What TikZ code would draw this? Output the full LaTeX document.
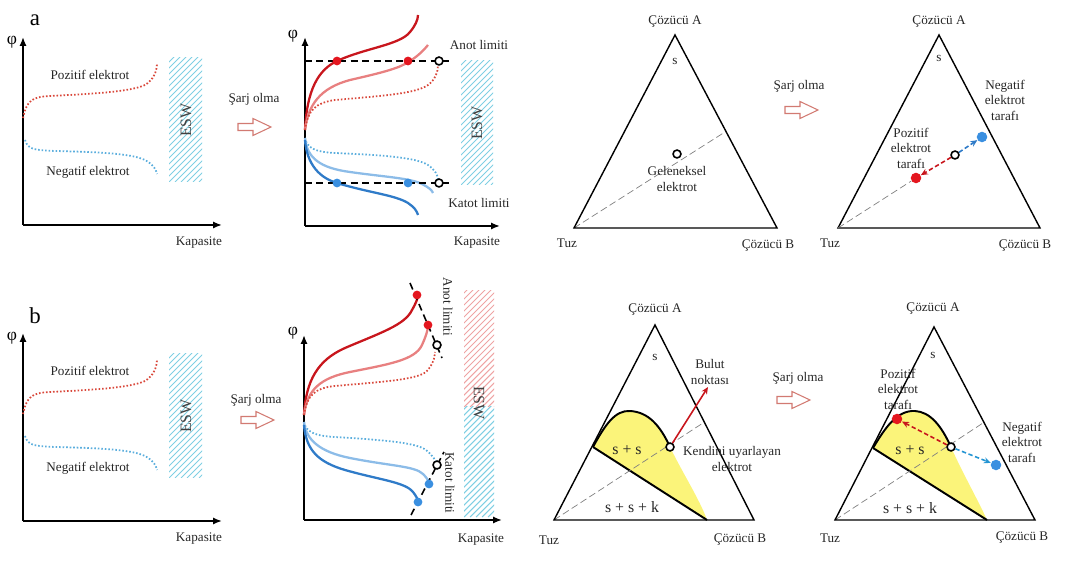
\documentclass[tikz,border=0pt]{standalone}
\usepackage{fontspec}
\setmainfont{Liberation Serif}
\usepackage{xcolor}
\usepackage{tikz}
\usetikzlibrary{positioning,arrows.meta}

\definecolor{potred}{HTML}{C8161D}
\definecolor{potredlt}{HTML}{E88080}
\definecolor{potreddot}{HTML}{D9473A}
\definecolor{potblue}{HTML}{2F7BC8}
\definecolor{potbluelt}{HTML}{8CBCE8}
\definecolor{potbluedot}{HTML}{5BAEDD}
\definecolor{eswblue}{HTML}{7FCFE3}
\definecolor{eswred}{HTML}{EFA3A3}
\definecolor{phaseyel}{HTML}{FBF47A}
\definecolor{sarjred}{HTML}{D27A72}
\definecolor{dotred}{HTML}{E4161F}
\definecolor{dotblue}{HTML}{3A8FE0}

% hatched ESW strip: x1, y1, x2, y2, colour
\newcommand{\eswhatch}[5]{%
  \begin{scope}
    \clip (#1,#2) rectangle (#3,#4);
    \foreach \k in {-240,-234,...,40}
      \draw[#5, line width=0.6pt] ({#1+\k},#4) -- ++(260,-260);
  \end{scope}}

% hollow "Sarj olma" arrow
\newcommand{\sarjarrow}[2]{%
  \draw[draw=sarjred, line width=0.6pt] (#1,#2) ++(0,-3.5) -- ++(15,0) -- ++(0,-5)
    -- ++(18,8.5) -- ++(-18,8.5) -- ++(0,-5) -- ++(-15,0) -- cycle;}

\begin{document}
\begin{tikzpicture}[x=0.02cm, y=-0.02cm,
      lbl/.style={
        font=\fontsize{7.5}{8.8}\selectfont,
        text=black!85,
        align=center,
        inner sep=0.5pt
      },
      panel/.style={font=\fontsize{13}{14}\selectfont, inner sep=0pt},
      phi/.style={font=\fontsize{10}{11}\selectfont, inner sep=0pt},
      esw/.style={font=\fontsize{9}{10}\selectfont, text=black!75, inner sep=0pt},
      axis/.style={line width=1.1pt, -{Latex[length=5pt,width=4pt]}},
      reddot/.style={potreddot, line width=1pt, dash pattern=on 0.9pt off 1.1pt},
      bluedot/.style={potbluedot, line width=1pt, dash pattern=on 0.9pt off 1.1pt},
      redfull/.style={potred, line width=1.3pt},
      redlight/.style={potredlt, line width=1.3pt},
      bluefull/.style={potblue, line width=1.3pt},
      bluelight/.style={potbluelt, line width=1.3pt},
      limit/.style={black, line width=0.9pt, dash pattern=on 4pt off 2.5pt},
      rdot/.style={circle, fill=dotred, inner sep=0pt, minimum size=5pt},
      bdot/.style={circle, fill=dotblue, inner sep=0pt, minimum size=5pt},
      odot/.style={circle, draw=black, fill=white, line width=0.9pt, inner sep=0pt, minimum size=4.5pt},
      tern/.style={black, line width=0.8pt},
      tie/.style={black, line width=1.1pt},
      guide/.style={gray, line width=0.4pt, dash pattern=on 4pt off 2pt},
      move/.style={line width=0.9pt, dash pattern=on 2.5pt off 1.5pt, -{Stealth[length=4pt,width=3.5pt]}}
      ]
        \useasboundingbox (0,0) rectangle (1068,580);

        % left panels, before charging
        \foreach \oy/\row in {0/a,296/b} {
          \begin{scope}[shift={(0,\oy)}]
            \node[panel] (lab\row) at (35,20) {\row};
            \coordinate (o\row) at (23,225);
            \coordinate (ytop\row) at (23,37);
            \coordinate (xend\row) at (222,225);
            \draw[axis] (o\row) -- (ytop\row);
            \draw[axis] (o\row) -- (xend\row);
            \node[phi] (phi\row) at (12,42) {φ};
            \node[lbl] (kap\row) at (199,243) {Kapasite};

            \draw[reddot] (23,118) .. controls (27,100) and (32,97) .. (50,96)
              .. controls (90,94) and (130,92) .. (145,85) .. controls (153,80) and (157,72) .. (157,63);
            \draw[bluedot] (25,140) .. controls (28,150) and (35,150) .. (55,151)
              .. controls (95,152) and (130,153) .. (145,160) .. controls (152,164) and (156,168) .. (157,174);
            \node[lbl] (poz\row) at (90,75) {Pozitif elektrot};
            \node[lbl] (neg\row) at (88,172) {Negatif elektrot};

            \eswhatch{169}{58}{202}{182}{eswblue}
            \node[esw, rotate=90] (esw\row) at (186,120) {ESW};
          \end{scope}
        }

        % charging arrows
        \node[lbl] (sarj1) at (254,99) {Şarj olma};
        \sarjarrow{238}{127}
        \node[lbl] (sarj2) at (256,400) {Şarj olma};
        \sarjarrow{241}{420}
        \node[lbl] (sarj3) at (799,86) {Şarj olma};
        \sarjarrow{785}{110}
        \node[lbl] (sarj4) at (798,378) {Şarj olma};
        \sarjarrow{777}{400}

        % a: after charging
        \coordinate (o2) at (305,226);
        \coordinate (y2top) at (305,37);
        \coordinate (x2end) at (500,226);
        \draw[axis] (o2) -- (y2top);
        \draw[axis] (o2) -- (x2end);
        \node[phi] (phi2) at (293,36) {φ};
        \node[lbl] (kap2) at (477,243) {Kapasite};

        \draw[redfull] (305,130) .. controls (307,90) and (318,70) .. (337,61)
          .. controls (365,48) and (400,45) .. (410,32) .. controls (415,26) and (418,20) .. (418,15);
        \draw[redlight] (305,130) .. controls (308,105) and (320,88) .. (350,80)
          .. controls (385,72) and (400,68) .. (410,61) .. controls (418,56) and (424,50) .. (428,45);
        \draw[reddot] (305,130) .. controls (308,110) and (315,103) .. (335,100)
          .. controls (380,96) and (415,94) .. (428,85) .. controls (435,80) and (438,72) .. (438,65);
        \draw[bluedot] (305,138) .. controls (307,148) and (315,152) .. (335,153)
          .. controls (380,155) and (415,157) .. (428,165) .. controls (435,170) and (438,175) .. (438,180);
        \draw[bluelight] (305,138) .. controls (307,158) and (320,168) .. (350,172)
          .. controls (385,177) and (410,178) .. (422,184) .. controls (428,187) and (432,190) .. (433,193);
        \draw[bluefull] (305,140) .. controls (307,165) and (320,178) .. (337,183)
          .. controls (370,193) and (395,195) .. (408,203) .. controls (414,207) and (417,211) .. (418,215);

        \coordinate (anotL) at (305,61);
        \coordinate (anotR) at (452,61);
        \coordinate (katotL) at (305,183);
        \coordinate (katotR) at (452,183);
        \draw[limit] (anotL) -- (anotR);
        \draw[limit] (katotL) -- (katotR);
        \node[rdot] (an1) at (337,61) {};
        \node[rdot] (an2) at (408,61) {};
        \node[odot] (an3) at (439,61) {};
        \node[bdot] (ka1) at (337,183) {};
        \node[bdot] (ka2) at (408,183) {};
        \node[odot] (ka3) at (439,183) {};
        \node[lbl] (anot) at (479,45) {Anot limiti};
        \node[lbl] (katot) at (479,203) {Katot limiti};
        \eswhatch{461}{61}{493}{185}{eswblue}
        \node[esw, rotate=90] (esw2) at (477,123) {ESW};

        % b: after charging
        \coordinate (o4) at (304,520);
        \coordinate (y4top) at (304,335);
        \coordinate (x4end) at (502,520);
        \draw[axis] (o4) -- (y4top);
        \draw[axis] (o4) -- (x4end);
        \node[phi] (phi4) at (293,333) {φ};
        \node[lbl] (kap4) at (481,540) {Kapasite};

        \draw[redfull] (304,415) .. controls (306,380) and (318,360) .. (345,348)
          .. controls (380,333) and (405,325) .. (412,310) .. controls (416,303) and (418,298) .. (418,295);
        \draw[redlight] (304,415) .. controls (307,390) and (320,378) .. (350,372)
          .. controls (390,364) and (415,360) .. (422,345) .. controls (426,336) and (428,330) .. (428,325);
        \draw[reddot] (304,415) .. controls (307,395) and (315,388) .. (335,386)
          .. controls (380,382) and (415,380) .. (426,372) .. controls (432,366) and (435,358) .. (435,352);
        \draw[bluedot] (304,422) .. controls (306,432) and (315,436) .. (335,437)
          .. controls (380,440) and (415,442) .. (426,450) .. controls (432,455) and (436,460) .. (437,465);
        \draw[bluelight] (304,422) .. controls (306,440) and (320,452) .. (350,458)
          .. controls (390,466) and (415,466) .. (423,474) .. controls (427,478) and (429,481) .. (429,484);
        \draw[bluefull] (304,425) .. controls (306,450) and (318,462) .. (345,470)
          .. controls (380,480) and (405,482) .. (413,492) .. controls (416,496) and (418,499) .. (418,502);

        \coordinate (banotS) at (410,283);
        \coordinate (banotE) at (442,358);
        \coordinate (bkatotS) at (411,515);
        \coordinate (bkatotE) at (444,452);
        \draw[limit] (banotS) -- (banotE);
        \draw[limit] (bkatotS) -- (bkatotE);
        \node[rdot] (ban1) at (417,295) {};
        \node[rdot] (ban2) at (428,325) {};
        \node[odot] (ban3) at (437,345) {};
        \node[bdot] (bka1) at (418,502) {};
        \node[bdot] (bka2) at (429,484) {};
        \node[odot] (bka3) at (437,465) {};
        \node[lbl, rotate=-90] (banot) at (448,307) {Anot limiti};
        \node[lbl, rotate=-90] (bkatot) at (450,483) {Katot limiti};
        \eswhatch{464}{291}{494}{407}{eswred}
        \eswhatch{464}{407}{494}{517}{eswblue}
        \node[esw, rotate=-90] (esw4) at (479,403) {ESW};

        % ternary: conventional electrode
        \coordinate (tA1) at (675,35);
        \coordinate (tT1) at (574,228);
        \coordinate (tB1) at (777,228);
        \coordinate (tR1) at (725,132);
        \draw[guide] (tT1) -- (tR1);
        \draw[tern] (tA1) -- (tT1) -- (tB1) -- cycle;
        \node[lbl] (cA1) at (675,22) {Çözücü A};
        \node[lbl] (cB1) at (768,246) {Çözücü B};
        \node[lbl] (tuz1) at (567,243) {Tuz};
        \node[lbl] (s1) at (675,61) {s};
        \node[odot] (gel) at (677,154) {};
        \node[lbl] (gellbl) at (677,179) {Geleneksel\\elektrot};

        % ternary: conventional electrode, charged
        \coordinate (tA2) at (939,35);
        \coordinate (tT2) at (838,228);
        \coordinate (tB2) at (1040,228);
        \draw[tern] (tA2) -- (tT2) -- (tB2) -- cycle;
        \node[lbl] (cA2) at (939,22) {Çözücü A};
        \node[lbl] (cB2) at (1025,246) {Çözücü B};
        \node[lbl] (tuz2) at (830,243) {Tuz};
        \node[lbl] (s2) at (939,58) {s};
        \node[odot] (mid2) at (955,155) {};
        \node[circle, fill=dotred, inner sep=0pt, minimum size=6pt] (pos2) at (916,178) {};
        \node[circle, fill=dotblue, inner sep=0pt, minimum size=6pt] (neg2) at (982,137) {};
        \draw[guide] (tT2) -- (pos2);
        \draw[move, potred] (mid2) -- (pos2);
        \draw[move, potblue] (mid2) -- (neg2);
        \node[lbl] (poz2) at (911,148) {Pozitif\\elektrot\\tarafı};
        \node[lbl] (neg2lbl) at (1005,100) {Negatif\\elektrot\\tarafı};

        % ternary: self-adapting electrode
        \coordinate (tA3) at (655,325);
        \coordinate (tT3) at (554,520);
        \coordinate (tB3) at (754,520);
        \coordinate (tR3) at (703,423);
        \coordinate (cloud) at (708,387);
        \fill[phaseyel] (593,447) .. controls (605,425) and (615,410) .. (630,411)
          .. controls (648,412) and (660,425) .. (670,447)
          .. controls (682,472) and (700,500) .. (707,520) -- cycle;
        \draw[tie] (593,447) .. controls (605,425) and (615,410) .. (630,411)
          .. controls (648,412) and (660,425) .. (670,447);
        \draw[tie] (593,447) -- (707,520);
        \draw[guide] (tT3) -- (tR3);
        \draw[tern] (tA3) -- (tT3) -- (tB3) -- cycle;
        \node[odot] (self) at (670,447) {};
        \draw[potred, line width=0.9pt, -{Stealth[length=4pt,width=3.5pt]}] (self) -- (cloud);
        \node[lbl] (cA3) at (655,310) {Çözücü A};
        \node[lbl] (cB3) at (740,540) {Çözücü B};
        \node[lbl] (tuz3) at (549,540) {Tuz};
        \node[lbl] (s3) at (655,357) {s};
        \node[lbl, font=\fontsize{9}{10}\selectfont] (ss3) at (627,450) {s + s};
        \node[lbl, font=\fontsize{9}{10}\selectfont] (ssk3) at (632,507) {s + s + k};
        \node[lbl] (bulut) at (710,372) {Bulut\\noktası};
        \node[lbl] (kendi) at (732,459) {Kendini uyarlayan\\elektrot};

        % ternary: self-adapting electrode, charged
        \coordinate (tA4) at (934,327);
        \coordinate (tT4) at (835,520);
        \coordinate (tB4) at (1035,520);
        \coordinate (tR4) at (983,423);
        \fill[phaseyel] (873,448) .. controls (885,428) and (897,410) .. (915,411)
          .. controls (930,412) and (941,425) .. (951,447)
          .. controls (962,472) and (978,500) .. (987,520) -- cycle;
        \draw[tie] (873,448) .. controls (885,428) and (897,410) .. (915,411)
          .. controls (930,412) and (941,425) .. (951,447);
        \draw[tie] (873,448) -- (987,520);
        \draw[guide] (tT4) -- (tR4);
        \draw[tern] (tA4) -- (tT4) -- (tB4) -- cycle;
        \node[odot] (mid4) at (951,447) {};
        \node[circle, fill=dotred, inner sep=0pt, minimum size=6pt] (pos4) at (897,419) {};
        \node[circle, fill=dotblue, inner sep=0pt, minimum size=6pt] (neg4) at (996,465) {};
        \draw[move, potred] (mid4) -- (pos4);
        \draw[move, potblue!80!cyan] (mid4) -- (neg4);
        \node[lbl] (cA4) at (933,309) {Çözücü A};
        \node[lbl] (cB4) at (1022,538) {Çözücü B};
        \node[lbl] (tuz4) at (830,538) {Tuz};
        \node[lbl] (s4) at (933,355) {s};
        \node[lbl, font=\fontsize{9}{10}\selectfont] (ss4) at (910,450) {s + s};
        \node[lbl, font=\fontsize{9}{10}\selectfont] (ssk4) at (910,508) {s + s + k};
        \node[lbl] (poz4) at (898,389) {Pozitif\\elektrot\\tarafı};
        \node[lbl] (neg4lbl) at (1022,442) {Negatif\\elektrot\\tarafı};
    \end{tikzpicture}
\end{document}
